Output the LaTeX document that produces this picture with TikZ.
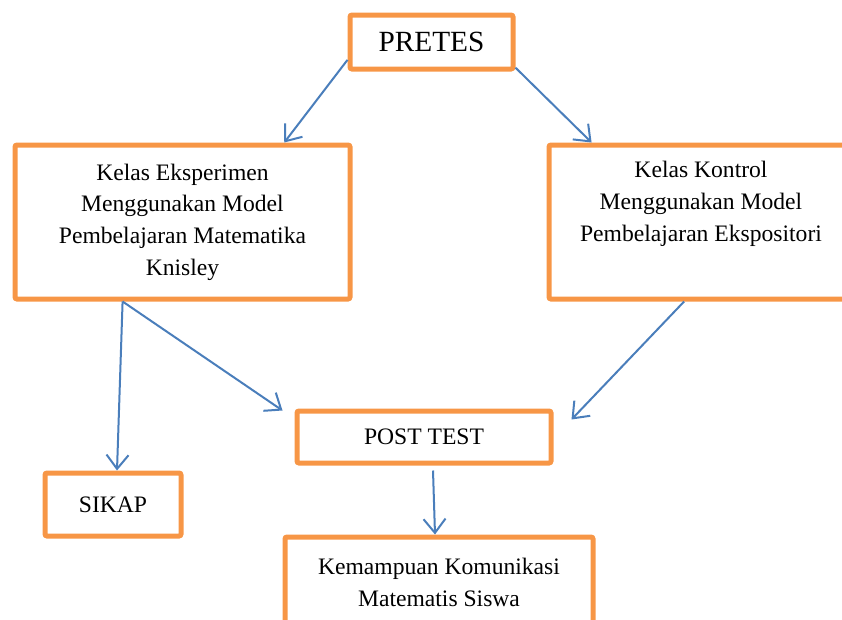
\documentclass[tikz,border=0pt]{standalone}
\usepackage{fontspec}
\setmainfont{Liberation Serif}
\usetikzlibrary{arrows.meta}
\definecolor{oranye}{HTML}{F79646}
\definecolor{biru}{HTML}{4A7EBB}
\tikzset{
kotak/.style={draw=oranye, line width=5pt, rounded corners=2pt, align=center, inner sep=0pt, % box of each stage
  font=\fontsize{23.6}{31.7}\selectfont},
panah/.style={draw=biru, line width=2pt, -{Straight Barb[length=14pt,width=22pt]}}, % blue arrows
}
\begin{document}
\begin{tikzpicture}[x=1pt, y=-1pt]
\useasboundingbox (0,0) rectangle (842,619);
\clip (0,0) rectangle (842,619);

\node[kotak, minimum width=163pt, minimum height=54pt, font=\fontsize{29.3}{35}\selectfont] (pretes) at (431.5,42) {PRETES};
\node[kotak, minimum width=335pt, minimum height=154pt] (eksp) at (182.5,222)
  {Kelas Eksperimen\\ Menggunakan Model\\ Pembelajaran Matematika\\ Knisley};
\node[kotak, minimum width=304pt, minimum height=154pt] (kontrol) at (701,222)
  {Kelas Kontrol\\ Menggunakan Model\\ Pembelajaran Ekspositori\\ \strut};
\node[kotak, minimum width=136pt, minimum height=63pt] (sikap) at (113,504.5) {SIKAP};
\node[kotak, minimum width=254pt, minimum height=52pt] (posttest) at (424,437) {POST TEST};
\node[kotak, minimum width=308pt, minimum height=91pt] (kemampuan) at (439,582.5)
  {Kemampuan Komunikasi\\ Matematis Siswa};

\draw[panah] (pretes.192) -- (eksp.38);
\draw[panah] (pretes.-17) -- (kontrol.144);
\draw[panah] (eksp.-127) -- ([xshift=4pt]sikap.north);
\draw[panah] (eksp.-127) -- ([shift={(-12pt,-2pt)}]posttest.north west);
\draw[panah] (kontrol.-102) -- ([shift={(18pt,-11pt)}]posttest.north east);
\draw[panah] ([shift={(9pt,-5pt)}]posttest.south) -- ([xshift=-4pt]kemampuan.north);

\end{tikzpicture}
\end{document}
